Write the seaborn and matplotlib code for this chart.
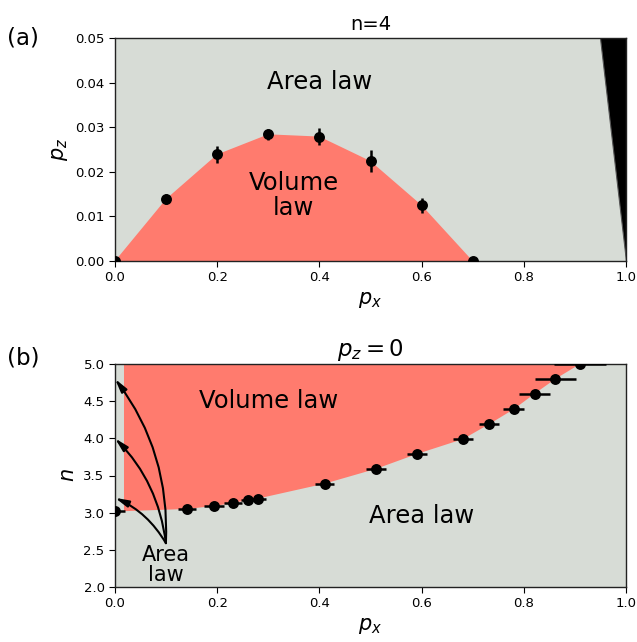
import matplotlib
matplotlib.use("Agg")
import matplotlib.pyplot as plt
import numpy as np
import pandas as pd
import seaborn as sns

# ---- data -------------------------------------------------------------
# (a) phase boundary at n = 4
px_a = [0.0, 0.1, 0.2, 0.3, 0.4, 0.5, 0.6, 0.7]
pz_a = [0.0, 0.0139, 0.0239, 0.0284, 0.0279, 0.0224, 0.0125, 0.0]
pz_err_a = [0.0, 0.0011, 0.0019, 0.0013, 0.0020, 0.0025, 0.0017, 0.0]

# unphysical corner (black wedge)
wedge_px = [0.95, 1.0, 1.0]
wedge_pz = [0.05, 0.05, 0.0]

# (b) phase boundary at p_z = 0
px_b = [0.0, 0.141, 0.194, 0.231, 0.260, 0.280, 0.410, 0.511,
        0.591, 0.681, 0.732, 0.780, 0.821, 0.862, 0.910]
n_b = [3.02, 3.05, 3.09, 3.13, 3.17, 3.19, 3.39, 3.59,
       3.79, 3.99, 4.19, 4.39, 4.60, 4.80, 5.00]
px_err_b = [0.02, 0.018, 0.02, 0.018, 0.013, 0.015, 0.018, 0.02,
            0.02, 0.02, 0.02, 0.02, 0.03, 0.04, 0.05]
volume_left_edge = 0.0176

# small-p_x area-law pointers
arrow_targets_n = [4.8, 4.0, 3.2]
arrow_rads = [0.18, 0.17, 0.16]

GRAY = "#D7DCD6"
RED = "#FF7B6E"

# ---- style ------------------------------------------------------------
sns.set_style("ticks")
plt.rcParams.update({
    "font.family": ["DejaVu Sans"],
    "text.color": "black",
    "axes.labelcolor": "black",
    "axes.edgecolor": "#222222",
    "axes.linewidth": 1.0,
    "xtick.labelsize": 9.5,
    "ytick.labelsize": 9.5,
    "xtick.direction": "out",
    "ytick.direction": "out",
    "xtick.major.size": 4,
    "ytick.major.size": 4,
    "xtick.color": "black",
    "ytick.color": "black",
    "mathtext.fontset": "dejavusans",
})

fig = plt.figure(figsize=(6.37, 6.42), dpi=100)
W, H = 637, 642
ax_a = fig.add_axes([115 / W, 1 - 261 / H, 511 / W, 223 / H])
ax_b = fig.add_axes([115 / W, 1 - 587 / H, 511 / W, 223 / H])

# ---- panel (a) --------------------------------------------------------
ax_a.set_facecolor(GRAY)
ax_a.fill(px_a, pz_a, color=RED, lw=0, zorder=1)
ax_a.fill(wedge_px, wedge_pz, color="black", lw=0.8, ec="#555555", zorder=1)
df_a = pd.DataFrame({"px": px_a, "pz": pz_a})
ax_a.errorbar(px_a, pz_a, yerr=pz_err_a, fmt="none", ecolor="black",
              elinewidth=1.8, capsize=0, zorder=3)
sns.scatterplot(data=df_a, x="px", y="pz", ax=ax_a, color="black", s=62,
                edgecolor="black", linewidth=0, zorder=4, legend=False)
ax_a.set_xlim(0, 1)
ax_a.set_ylim(0, 0.05)
ax_a.set_xticks(np.arange(0, 1.01, 0.2))
ax_a.set_yticks(np.arange(0, 0.051, 0.01))
ax_a.set_yticklabels([f"{v:.2f}" for v in np.arange(0, 0.051, 0.01)])
ax_a.set_xticklabels([f"{v:.1f}" for v in np.arange(0, 1.01, 0.2)])
ax_a.set_xlabel(r"$p_x$", fontsize=15)
ax_a.set_ylabel(r"$p_z$", fontsize=15)
ax_a.set_title("n=4", fontsize=14, pad=6)
ax_a.text(0.40, 0.0401, "Area law", fontsize=17.5, ha="center", va="center")
ax_a.text(0.35, 0.0147, "Volume\nlaw", fontsize=17.5, ha="center",
          va="center", linespacing=1.05)

# ---- panel (b) --------------------------------------------------------
ax_b.set_facecolor(GRAY)
poly_x = [volume_left_edge, volume_left_edge] + px_b[1:]
poly_y = [5.0, n_b[0]] + n_b[1:]
ax_b.fill(poly_x, poly_y, color=RED, lw=0, zorder=1)
df_b = pd.DataFrame({"px": px_b, "n": n_b})
ax_b.errorbar(px_b, n_b, xerr=px_err_b, fmt="none", ecolor="black",
              elinewidth=1.8, capsize=0, zorder=3)
sns.scatterplot(data=df_b, x="px", y="n", ax=ax_b, color="black", s=62,
                edgecolor="black", linewidth=0, zorder=4, legend=False)
ax_b.set_xlim(0, 1)
ax_b.set_ylim(2.0, 5.0)
ax_b.set_xticks(np.arange(0, 1.01, 0.2))
ax_b.set_xticklabels([f"{v:.1f}" for v in np.arange(0, 1.01, 0.2)])
ax_b.set_yticks(np.arange(2.0, 5.01, 0.5))
ax_b.set_xlabel(r"$p_x$", fontsize=15)
ax_b.set_ylabel(r"$n$", fontsize=15)
ax_b.set_title(r"$p_z = 0$", fontsize=16.5, pad=6)
ax_b.text(0.30, 4.50, "Volume law", fontsize=17.5, ha="center", va="center")
ax_b.text(0.60, 2.96, "Area law", fontsize=17.5, ha="center", va="center")
ax_b.text(0.10, 2.30, "Area\nlaw", fontsize=15, ha="center", va="center",
          linespacing=1.0)
for n_t, rad in zip(arrow_targets_n, arrow_rads):
    ax_b.annotate("", xy=(0.0, n_t), xytext=(0.0996, 2.59),
                  arrowprops=dict(arrowstyle="-|>,head_length=0.8,head_width=0.2",
                                  connectionstyle=f"arc3,rad={rad}",
                                  color="black", lw=1.5, shrinkA=0, shrinkB=0),
                  zorder=5)

# panel tags
fig.text(23 / W, 1 - 38 / H, "(a)", fontsize=16.5, ha="center", va="center")
fig.text(23 / W, 1 - 358 / H, "(b)", fontsize=16.5, ha="center", va="center")

fig.savefig("out.png", dpi=100)
